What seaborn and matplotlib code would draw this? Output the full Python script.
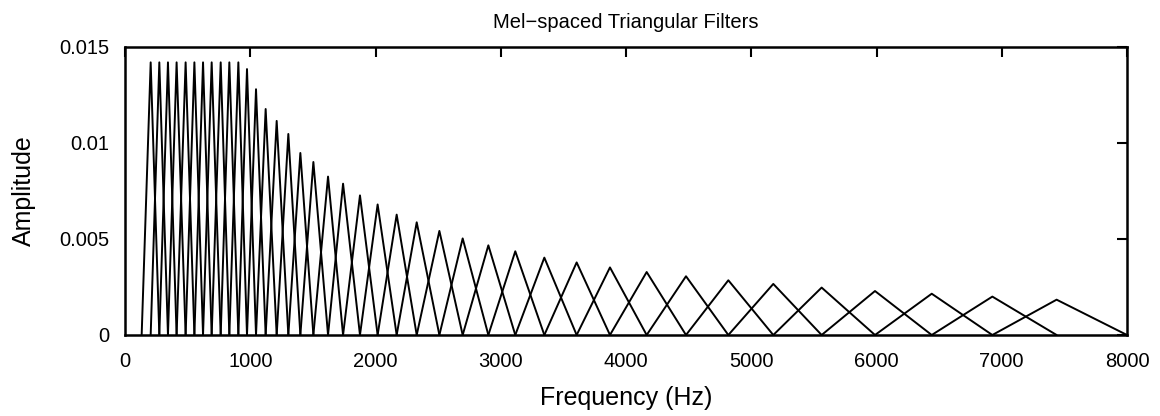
import numpy as np
import pandas as pd
import matplotlib
matplotlib.use("Agg")
import matplotlib.pyplot as plt
import seaborn as sns

# Filter edge / centre frequencies (Hz)
edges = [133, 205, 274, 343, 412, 484, 554, 623, 692, 764, 833, 905, 974,
         1046, 1123, 1211, 1304, 1400, 1504, 1621, 1741, 1876, 2017, 2169,
         2329, 2510, 2696, 2901, 3116, 3348, 3606, 3872, 4165, 4479, 4817,
         5176, 5562, 5988, 6441, 6925, 7438, 8000]
# Peak amplitude of each of the 40 triangular filters
peaks = [0.0142, 0.0142, 0.0142, 0.0142, 0.0142, 0.0142, 0.0142, 0.0142,
         0.0142, 0.0142, 0.0142, 0.01385, 0.0128, 0.01177, 0.01115, 0.01047,
         0.00948, 0.00901, 0.00825, 0.00788, 0.00727, 0.0068, 0.00627,
         0.00587, 0.00542, 0.00503, 0.00467, 0.00436, 0.00403, 0.00378,
         0.00352, 0.00328, 0.00306, 0.00285, 0.00266, 0.00247, 0.00229,
         0.00215, 0.00200, 0.00184]
xticks = [0, 1000, 2000, 3000, 4000, 5000, 6000, 7000, 8000]
yticks = [0, 0.005, 0.01, 0.015]
ytick_labels = ["0", "0.005", "0.01", "0.015"]

rows = []
for i, h in enumerate(peaks):
    rows.append((i, 0, edges[i], 0.0))
    rows.append((i, 1, edges[i + 1], h))
    rows.append((i, 2, edges[i + 2], 0.0))
df = pd.DataFrame(rows, columns=["filter", "k", "freq", "amp"])

sns.set_theme(style="white")
plt.rcParams["font.family"] = ["Liberation Sans", "DejaVu Sans"]
plt.rcParams["text.color"] = "black"
plt.rcParams["axes.labelcolor"] = "black"

fig = plt.figure(figsize=(11.6, 4.16), dpi=100)
ax = fig.add_axes([125 / 1160, 1 - 335 / 416, 1002 / 1160, 288 / 416])

sns.lineplot(data=df, x="freq", y="amp", units="filter", estimator=None,
             sort=False, color="black", linewidth=1.4, ax=ax, legend=False)

ax.set_xlim(0, 8000)
ax.set_ylim(0, 0.015)
ax.set_xticks(xticks)
ax.set_xticklabels([str(t) for t in xticks])
ax.set_yticks(yticks)
ax.set_yticklabels(ytick_labels)
ax.tick_params(direction="in", length=7, width=1.5, top=True, right=True,
               labelsize=14.5, colors="black")
ax.tick_params(axis="x", pad=12)
ax.tick_params(axis="y", pad=11)
for s in ax.spines.values():
    s.set_visible(True)
    s.set_linewidth(1.8)
    s.set_color("black")

ax.set_title("Mel\u2212spaced Triangular Filters", fontsize=14.5, pad=14,
             color="black")
ax.set_xlabel("Frequency (Hz)", fontsize=18, labelpad=11, color="black")
ax.set_ylabel("Amplitude", fontsize=18, labelpad=17, color="black")

fig.savefig("out.png", dpi=100, facecolor="white")
